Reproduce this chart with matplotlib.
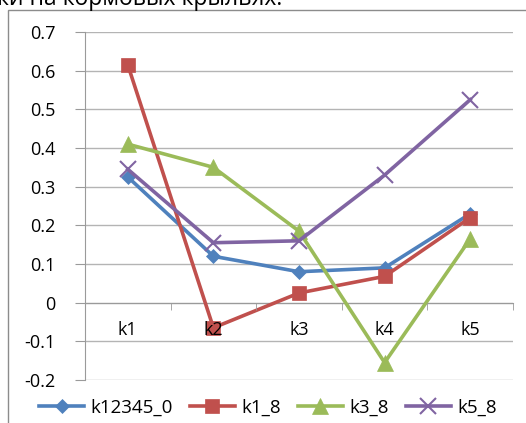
import matplotlib
matplotlib.use("Agg")
import matplotlib.pyplot as plt
from matplotlib.patches import Rectangle
from matplotlib.ticker import FixedLocator

categories = ["k1", "k2", "k3", "k4", "k5"]
series_names = ["k12345_0", "k1_8", "k3_8", "k5_8"]
k12345_0 = [0.325, 0.12, 0.08, 0.09, 0.23]
k1_8 = [0.615, -0.065, 0.025, 0.068, 0.22]
k3_8 = [0.41, 0.35, 0.185, -0.155, 0.165]
k5_8 = [0.345, 0.155, 0.16, 0.33, 0.525]
y_ticks = [-0.2, -0.1, 0, 0.1, 0.2, 0.3, 0.4, 0.5, 0.6, 0.7]
y_tick_labels = ["-0.2", "-0.1", "0", "0.1", "0.2", "0.3", "0.4", "0.5", "0.6", "0.7"]

colors = ["#4F81BD", "#C0504D", "#9BBB59", "#8064A2"]
markers = ["D", "s", "^", "x"]
msizes = [7, 10, 11, 11]

plt.rcParams["font.family"] = ["Open Sans", "DejaVu Sans"]

W, H = 526, 423
fig = plt.figure(figsize=(W / 100, H / 100), dpi=100)

# caption above the chart, partially outside the canvas
fig.text(-3 / W, 1 - 5 / H, "ки на кормовых крыльях.", fontsize=16.5,
         ha="left", va="baseline", color="black")

# chart frame
fig.patches.append(Rectangle((8 / W, -0.05), 1.2, 1 - 10 / H + 0.05,
                             transform=fig.transFigure, fill=False,
                             edgecolor="#8C8C8C", linewidth=1.0))

ax = fig.add_axes([85 / W, 1 - 380 / H, (513 - 85) / W, (380 - 32) / H])
x = list(range(len(categories)))
for vals, name, c, m, ms in zip([k12345_0, k1_8, k3_8, k5_8], series_names,
                                colors, markers, msizes):
    ax.plot(x, vals, color=c, linewidth=2.6, marker=m, markersize=ms,
            markeredgewidth=1.5 if m == "x" else 0.5, markeredgecolor=c,
            label=name, zorder=3)

ax.set_xlim(-0.5, 4.5)
ax.set_ylim(-0.2, 0.7)
ax.set_yticks(y_ticks)
ax.set_yticklabels(y_tick_labels)
ax.grid(axis="y", color="#B4B4B4", linewidth=1.0, zorder=0)
ax.set_axisbelow(True)

for s in ["top", "right"]:
    ax.spines[s].set_visible(False)
ax.spines["left"].set_color("#9A9A9A")
ax.spines["bottom"].set_color("#9A9A9A")
ax.spines["bottom"].set_position(("data", 0))

ax.set_xticks(x)
ax.set_xticklabels(categories)
ax.xaxis.set_minor_locator(FixedLocator([-0.5, 0.5, 1.5, 2.5, 3.5, 4.5]))
ax.tick_params(axis="x", which="major", length=0, pad=13, labelsize=13)
ax.tick_params(axis="x", which="minor", length=5, color="#9A9A9A", direction="out")
ax.tick_params(axis="y", length=7, color="#9A9A9A", labelsize=13, pad=14)
# category labels sit on top of the series lines
ax.xaxis.set_zorder(4)

fig.legend(loc="center", bbox_to_anchor=(268 / W, 1 - 408 / H), ncol=4,
           frameon=False, fontsize=13.5, handlelength=2.4, columnspacing=0.9,
           handletextpad=0.35)

fig.savefig("out.png", dpi=100)
